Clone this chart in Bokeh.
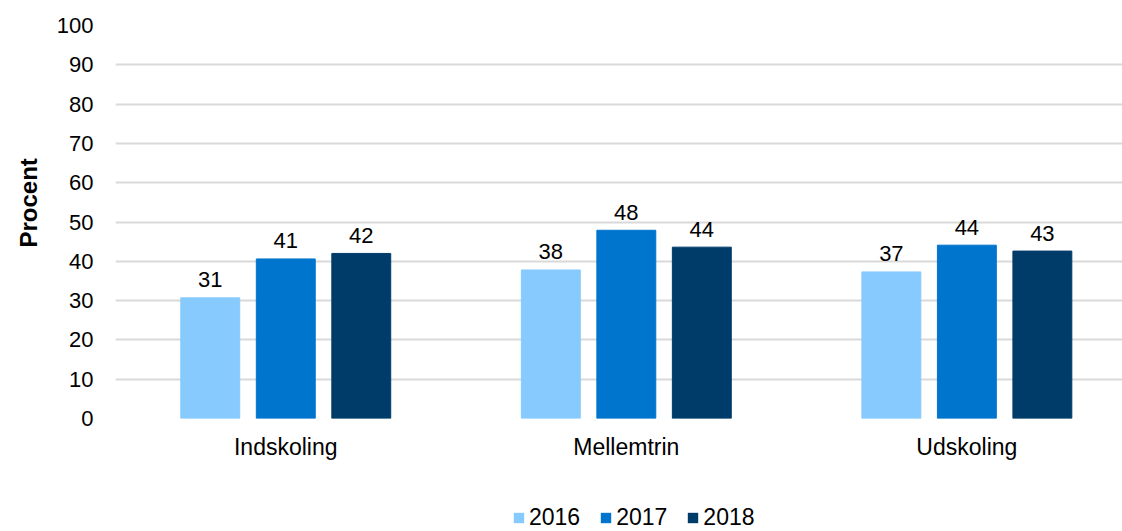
import numpy as np
from bokeh.plotting import figure
from bokeh.layouts import column
from bokeh.models import Range1d, FixedTicker, ColumnDataSource, Legend, LegendItem, Title
from bokeh.core.properties import value
from bokeh.embed import file_html
from bokeh.resources import INLINE

categories = ["Indskoling", "Mellemtrin", "Udskoling"]
years = ["2016", "2017", "2018"]
v2016 = [30.7, 37.8, 37.3]
v2017 = [40.6, 47.9, 44.1]
v2018 = [42.0, 43.6, 42.6]
series = [v2016, v2017, v2018]
colors = ["#87CAFE", "#0075CE", "#003C69"]
y_ticks = list(range(0, 101, 10))

FONT = "Liberation Sans"
bar_w = 0.173
step = 0.2217

p = figure(width=1122, height=463, output_backend="svg", toolbar_location=None,
           x_range=Range1d(0, 2.957), y_range=Range1d(0, 100),
           min_border_left=115, min_border_right=0, min_border_top=25, min_border_bottom=45)
p.outline_line_color = None
p.background_fill_color = "white"
p.border_fill_color = "white"

centers = np.arange(len(categories)) + 0.5
for k, (yr, vals, col) in enumerate(zip(years, series, colors)):
    xs = centers + (k - 1) * step
    src = ColumnDataSource(dict(x=xs, top=vals, lab=[str(int(round(v))) for v in vals]))
    p.vbar(x="x", top="top", bottom=0, width=bar_w, source=src,
           fill_color=col, line_color=col, line_width=1)
    p.text(x="x", y="top", text="lab", source=src, text_align="center",
           text_baseline="alphabetic", y_offset=-18, text_font=value(FONT),
           text_font_size="22px", text_color="#000000")

# axes
p.yaxis.ticker = FixedTicker(ticks=y_ticks)
p.yaxis.axis_line_color = None
p.yaxis.major_tick_line_color = None
p.yaxis.minor_tick_line_color = None
p.yaxis.major_tick_out = 0
p.yaxis.major_tick_in = 0
p.yaxis.major_label_text_font = FONT
p.yaxis.major_label_text_font_size = "22px"
p.yaxis.major_label_text_color = "#000000"
p.yaxis.major_label_standoff = 22

ytitle = Title(text="Procent", align="left", offset=171, standoff=24,
               vertical_align="bottom",
               text_font=FONT, text_font_size="24px", text_font_style="bold",
               text_color="#000000")
p.add_layout(ytitle, "left")

p.xaxis.ticker = FixedTicker(ticks=list(centers))
p.xaxis.major_label_overrides = {float(c): n for c, n in zip(centers, categories)}
p.xaxis.axis_line_color = None
p.xaxis.major_tick_line_color = None
p.xaxis.minor_tick_line_color = None
p.xaxis.major_tick_out = 0
p.xaxis.major_tick_in = 0
p.xaxis.major_label_text_font = FONT
p.xaxis.major_label_text_font_size = "23px"
p.xaxis.major_label_text_color = "#000000"
p.xaxis.major_label_standoff = 15

p.xgrid.grid_line_color = None
p.ygrid.ticker = FixedTicker(ticks=y_ticks)
p.ygrid.grid_line_color = "#D9D9D9"
p.ygrid.grid_line_width = 2

# legend strip below the chart (frame aligned with main chart frame)
pl = figure(width=1122, height=68, output_backend="svg", toolbar_location=None,
            x_range=Range1d(0, 1), y_range=Range1d(0, 1),
            x_axis_location=None, y_axis_location=None,
            min_border_left=0, min_border_right=0, min_border_top=0, min_border_bottom=0)
pl.outline_line_color = None
pl.grid.visible = False
items = []
for yr, col in zip(years, colors):
    r = pl.vbar(x=[-5], top=[-5], bottom=[-6], width=0.1, fill_color=col, line_color=None)
    items.append(LegendItem(label=yr, renderers=[r]))

legend = Legend(items=items, orientation="horizontal", location=(397, 0))
legend.padding = 0
legend.margin = 0
legend.spacing = 19
legend.border_line_color = None
legend.background_fill_alpha = 0
legend.glyph_width = 13
legend.glyph_height = 13
legend.label_standoff = 4
legend.label_text_font = FONT
legend.label_text_font_size = "23px"
legend.label_text_color = "#000000"
legend.label_height = 13
pl.add_layout(legend, "center")

layout = column(p, pl, spacing=0)
open("out.html", "w").write(file_html(layout, INLINE))
